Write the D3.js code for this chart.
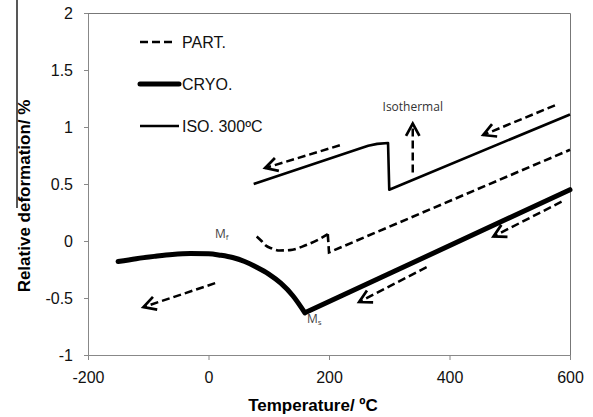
<!DOCTYPE html>
<html>
<head>
<meta charset="utf-8">
<script src="https://cdn.jsdelivr.net/npm/d3@7"></script>
<style>
  body { margin: 0; background: #fff; }
  svg { display: block; }
</style>
</head>
<body>
<div id="chart"></div>
<script>
// values: temperature (°C) and relative deformation (%)
const xTicks = [-200, 0, 200, 400, 600];
const yTicks = [-1, -0.5, 0, 0.5, 1, 1.5, 2];

// CRYO. - curved part down to Ms, then straight back up
const cryoCurveT = [-150, -120, -90, -60, -30, 0, 20, 40, 60, 80, 100, 120, 140, 160];
const cryoCurveV = [-0.18, -0.155, -0.135, -0.118, -0.11, -0.112, -0.125, -0.145, -0.18, -0.23, -0.29, -0.37, -0.48, -0.63];
const cryoLineT = [160, 600];
const cryoLineV = [-0.63, 0.45];

// PART. - dashed
const partCurveT = [80, 88, 95, 105, 118, 135, 160, 185, 198];
const partCurveV = [0.04, 0.0, -0.04, -0.065, -0.083, -0.08, -0.04, 0.02, 0.06];
const partLineT = [198, 200, 600];
const partLineV = [0.06, -0.1, 0.8];

// ISO. 300ºC - thin solid
const isoT = [75, 250, 265, 280, 298, 300, 600];
const isoV = [0.5, 0.81, 0.835, 0.852, 0.86, 0.45, 1.11];

// dashed arrows: start -> tip, in data units
const arrowFromT = [218, 339, 575, 586, 362, 11];
const arrowFromV = [0.84, 0.60, 1.19, 0.345, -0.23, -0.37];
const arrowToT = [94, 339, 456, 473, 250, -108];
const arrowToV = [0.64, 1.03, 0.93, 0.04, -0.535, -0.58];

const legendNames = ["PART.", "CRYO.", "ISO. 300ºC"];

const W = 593, H = 417;
const margin = { top: 13, right: 23, bottom: 62, left: 88 };

const svg = d3.select("#chart").append("svg")
  .attr("width", W)
  .attr("height", H);

const x = d3.scaleLinear().domain([-200, 600]).range([margin.left, W - margin.right]);
const y = d3.scaleLinear().domain([-1, 2]).range([H - margin.bottom, margin.top]);

const font = "'Liberation Sans', Arial, sans-serif";

// stray vertical rule at the far left of the original picture
svg.append("line")
  .attr("x1", 17).attr("x2", 17)
  .attr("y1", 0).attr("y2", 208)
  .attr("stroke", "#111")
  .attr("stroke-width", 1.4);

// plot frame (top and right)
svg.append("path")
  .attr("d", `M${x(-200)},${y(2) + 0.5}H${x(600) + 0.5}V${y(-1)}`)
  .attr("fill", "none")
  .attr("stroke", "#777")
  .attr("stroke-width", 1);

// axes
const xAxis = svg.append("g")
  .attr("transform", `translate(0,${y(-1)})`)
  .call(d3.axisBottom(x).tickValues(xTicks).tickSize(5).tickSizeOuter(0).tickPadding(12).tickFormat(d => String(d)));

const yAxis = svg.append("g")
  .attr("transform", `translate(${x(-200)},0)`)
  .call(d3.axisLeft(y).tickValues(yTicks).tickSize(4).tickSizeOuter(0).tickPadding(11).tickFormat(d => String(d)));

[xAxis, yAxis].forEach(g => {
  g.selectAll("path, line").attr("stroke", "#888");
  g.selectAll("text")
    .style("font-family", font)
    .style("font-size", "16px")
    .attr("fill", "#111");
});

// axis titles
svg.append("text")
  .attr("x", 313)
  .attr("y", 411)
  .attr("text-anchor", "middle")
  .style("font-family", font)
  .style("font-size", "17px")
  .style("font-weight", "bold")
  .text("Temperature/ ºC");

svg.append("text")
  .attr("transform", "translate(30,196) rotate(-90)")
  .attr("text-anchor", "middle")
  .style("font-family", font)
  .style("font-size", "17px")
  .style("font-weight", "bold")
  .text("Relative deformation/ %");

// helpers
const zip = (ts, vs) => ts.map((t, i) => [t, vs[i]]);
const smooth = d3.line().x(d => x(d[0])).y(d => y(d[1])).curve(d3.curveMonotoneX);
const straight = d3.line().x(d => x(d[0])).y(d => y(d[1]));

const lines = svg.append("g").attr("fill", "none").attr("stroke", "#000");

// ISO. 300ºC
lines.append("path")
  .attr("d", straight(zip(isoT, isoV)))
  .attr("stroke-width", 2.6)
  .attr("stroke-linejoin", "round");

// PART.
lines.append("path")
  .attr("d", smooth(zip(partCurveT, partCurveV)) + straight(zip(partLineT, partLineV)))
  .attr("stroke-width", 2.6)
  .attr("stroke-dasharray", "8,4");

// CRYO.
lines.append("path")
  .attr("d", smooth(zip(cryoCurveT, cryoCurveV)) + straight(zip(cryoLineT, cryoLineV)))
  .attr("stroke-width", 5)
  .attr("stroke-linecap", "round")
  .attr("stroke-linejoin", "round");

// dashed arrows with open heads
const arrows = svg.append("g").attr("fill", "none").attr("stroke", "#000");
arrowFromT.forEach((t, i) => {
  const x0 = x(t), y0 = y(arrowFromV[i]);
  const x1 = x(arrowToT[i]), y1 = y(arrowToV[i]);
  arrows.append("line")
    .attr("x1", x0).attr("y1", y0)
    .attr("x2", x1).attr("y2", y1)
    .attr("stroke-width", 2.5)
    .attr("stroke-dasharray", "8,4");
  const a = Math.atan2(y0 - y1, x0 - x1);
  const len = 14, spread = 0.5;
  arrows.append("path")
    .attr("d", `M${x1 + len * Math.cos(a - spread)},${y1 + len * Math.sin(a - spread)}L${x1},${y1}L${x1 + len * Math.cos(a + spread)},${y1 + len * Math.sin(a + spread)}`)
    .attr("stroke-width", 2.7)
    .attr("stroke-linejoin", "miter");
});

// annotations
const noteFont = "'Open Sans', sans-serif";
svg.append("text")
  .attr("x", x(339))
  .attr("y", 111)
  .attr("text-anchor", "middle")
  .style("font-family", noteFont)
  .style("font-size", "12px")
  .attr("fill", "#333")
  .text("Isothermal");

function msLabel(px, py, sub) {
  const t = svg.append("text")
    .attr("x", px).attr("y", py)
    .style("font-family", noteFont)
    .style("font-size", "12px")
    .attr("fill", "#444");
  t.append("tspan").text("M");
  t.append("tspan").attr("dy", 2).style("font-size", "8px").text(sub);
}
msLabel(215, 238, "f");
msLabel(307, 323, "s");

// legend
const legend = svg.append("g");
const rowY = [42, 84, 126];
legendNames.forEach((name, i) => {
  const ln = legend.append("line")
    .attr("x1", 140).attr("x2", i === 0 ? 174 : 179)
    .attr("y1", rowY[i]).attr("y2", rowY[i])
    .attr("stroke", "#000");
  if (i === 0) ln.attr("stroke-width", 2.6).attr("stroke-dasharray", "8,4");
  else if (i === 1) ln.attr("stroke-width", 5).attr("stroke-linecap", "round");
  else ln.attr("stroke-width", 2.4);
  legend.append("text")
    .attr("x", 182)
    .attr("y", rowY[i])
    .attr("dy", "0.36em")
    .style("font-family", font)
    .style("font-size", "16px")
    .attr("fill", "#111")
    .text(name);
});
</script>
</body>
</html>
